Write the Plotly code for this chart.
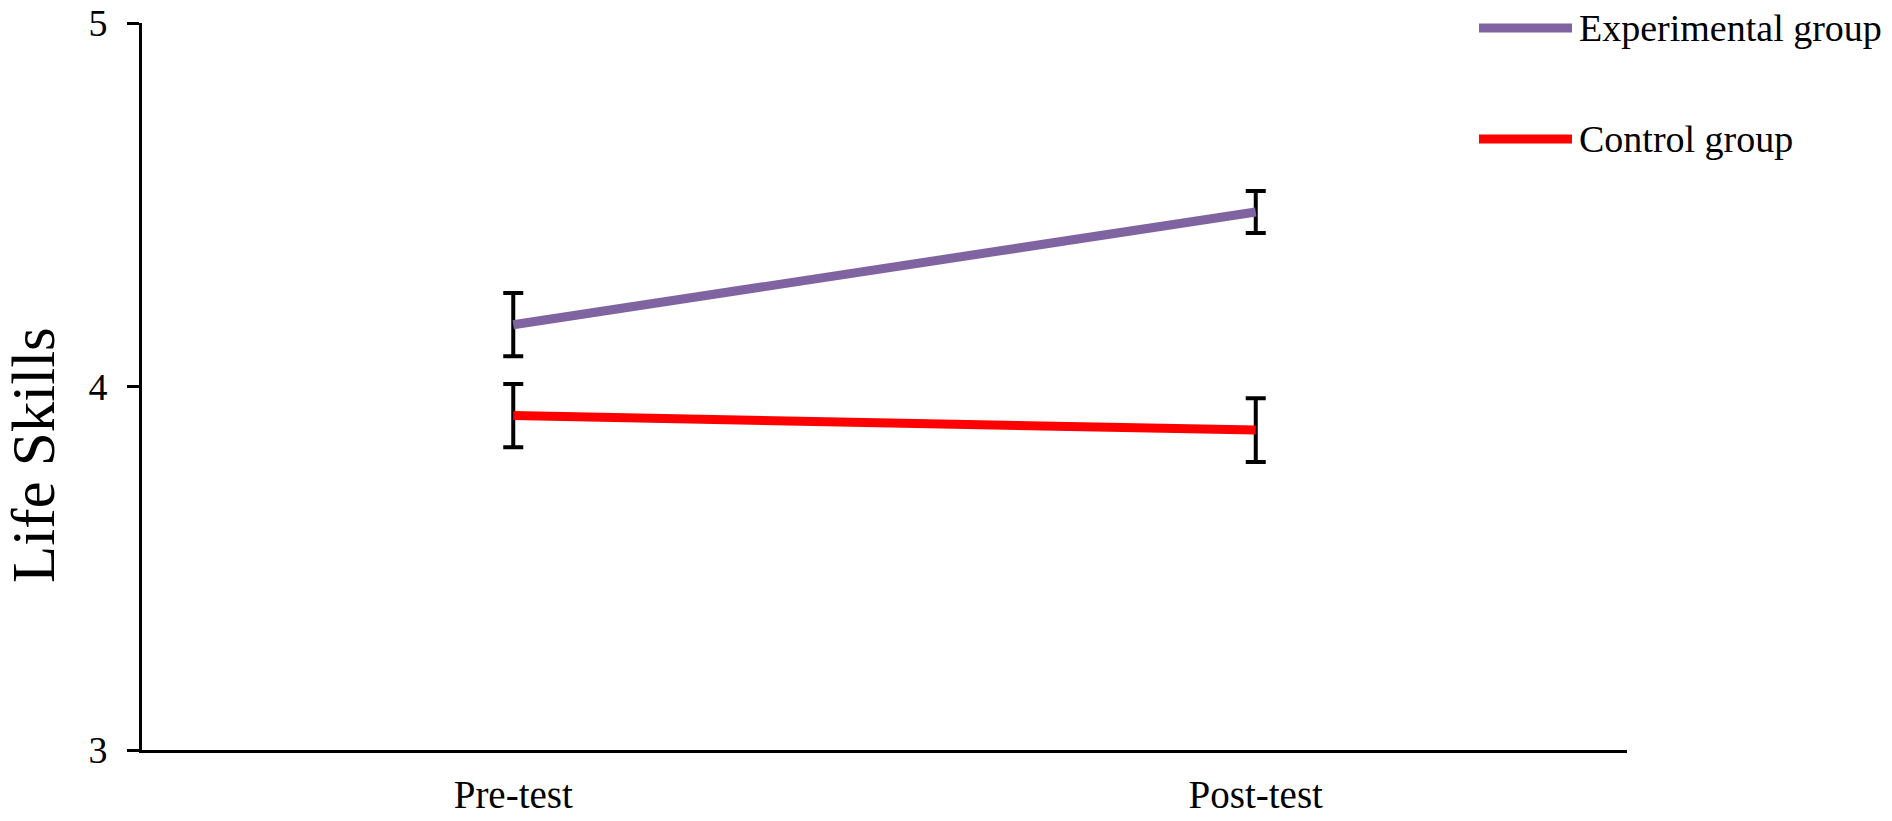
import plotly.graph_objects as go

# ---- data ----
phases = ["Pre-test", "Post-test"]
experimental_mean = [4.17, 4.48]
experimental_err = [0.087, 0.058]
control_mean = [3.92, 3.88]
control_err = [0.087, 0.088]
series_names = ["Experimental group", "Control group"]
y_ticks = [3, 4, 5]
y_title = "Life Skills"

# ---- styles ----
FONT = "Liberation Serif, Times New Roman, serif"
colors = ["#8064A2", "#FF0000"]

fig = go.Figure()
for name, mean, err, col in [
    (series_names[0], experimental_mean, experimental_err, colors[0]),
    (series_names[1], control_mean, control_err, colors[1]),
]:
    fig.add_trace(go.Scatter(
        x=phases, y=mean, name=name, mode="lines",
        line=dict(color=col, width=9),
        error_y=dict(type="data", array=err, visible=True,
                     color="black", thickness=4, width=10),
        showlegend=False, hoverinfo="skip",
    ))

W, H = 1892, 821
L, R, T, B = 142, 1627, 23, 750

def px(x):
    return (x - L) / (R - L)

def py(y):
    return (B - y) / (B - T)

# manual legend (line samples + labels)
leg_y = [28, 139]
for name, col, yy in zip(series_names, colors, leg_y):
    fig.add_shape(type="line", xref="paper", yref="paper",
                  x0=px(1479), x1=px(1572), y0=py(yy), y1=py(yy),
                  line=dict(color=col, width=9))
    fig.add_annotation(text=name, xref="paper", yref="paper",
                       x=px(1577), y=py(yy), xanchor="left", yanchor="middle",
                       showarrow=False, font=dict(family=FONT, size=38, color="black"))

fig.add_annotation(text=y_title, xref="paper", yref="paper",
                   x=px(33), y=py(455), xanchor="center", yanchor="middle",
                   textangle=-90, showarrow=False,
                   font=dict(family=FONT, size=61, color="black"))

fig.update_layout(
    template="none",
    width=W, height=H,
    margin=dict(l=L, r=W - R, t=T, b=H - B, pad=0, autoexpand=False),
    paper_bgcolor="white", plot_bgcolor="white",
    font=dict(family=FONT, color="black"),
    showlegend=False,
    xaxis=dict(type="category", categoryarray=phases, range=[-0.5, 1.5],
               automargin=False,
               showline=True, linecolor="black", linewidth=3,
               ticks="", showgrid=False, zeroline=False,
               tickfont=dict(family=FONT, size=39, color="black"),
               ticklabelstandoff=8),
    yaxis=dict(range=[3, 5], tickvals=y_ticks, ticktext=[str(t) for t in y_ticks],
               automargin=False,
               showline=True, linecolor="black", linewidth=3,
               ticks="outside", ticklen=12, tickwidth=3, tickcolor="black",
               showgrid=False, zeroline=False,
               tickfont=dict(family=FONT, size=38, color="black"),
               ticklabelstandoff=12),
)

fig.write_html(
    "out.html",
    config={"displayModeBar": False},
    post_script="document.body.style.margin='0';document.body.style.overflow='hidden';",
)
